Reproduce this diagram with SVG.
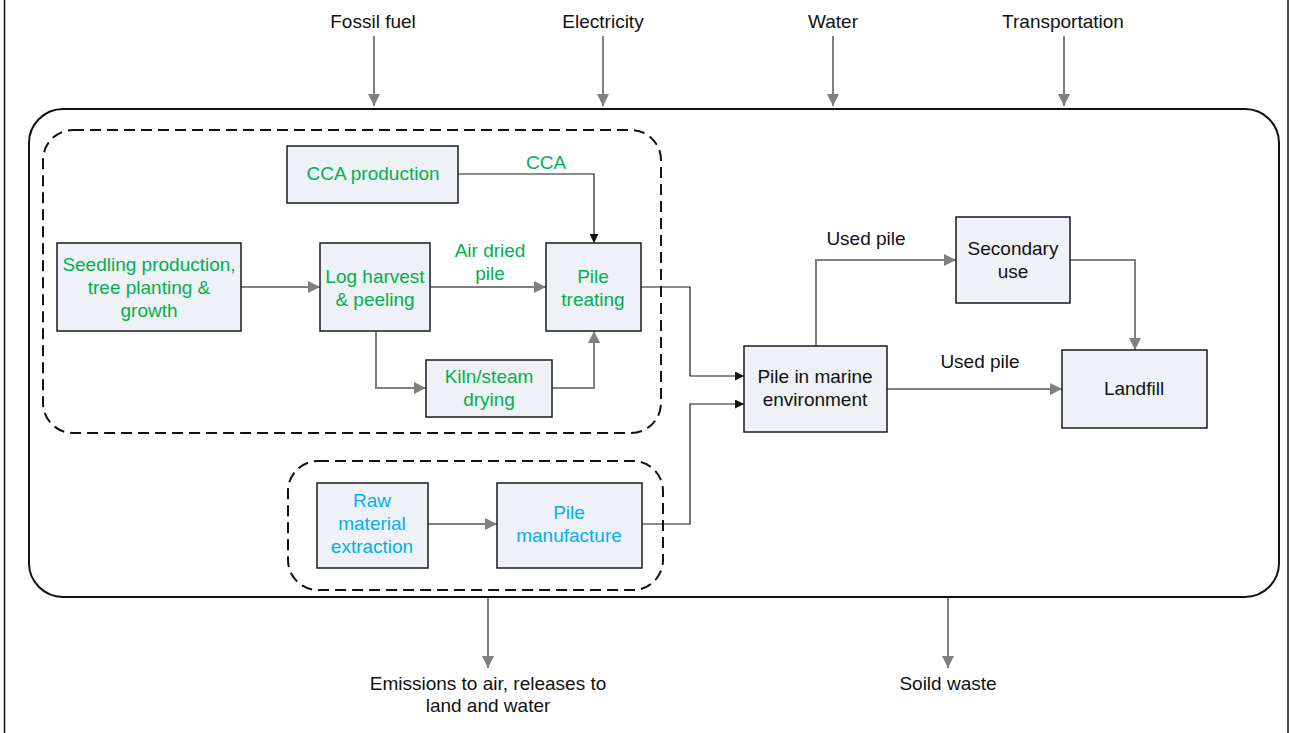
<svg xmlns="http://www.w3.org/2000/svg" width="1290" height="733" viewBox="0 0 1290 733">
<style>
.t{font-family:"Liberation Sans",Arial,sans-serif;font-size:19px;text-anchor:middle;fill:#111}
.g{fill:#00B050}
.b{fill:#00B0F0}
.box{fill:#EEF1F6;stroke:#1a1a1a;stroke-width:1.5}
.gr{fill:none;stroke:#808080;stroke-width:2}
.bk{fill:none;stroke:#1a1a1a;stroke-width:1.2}
.dash{fill:none;stroke:#111;stroke-width:2;stroke-dasharray:11 6}
</style>
<defs>
<marker id="ag" viewBox="0 0 10 10" refX="10" refY="5" markerWidth="12" markerHeight="12" markerUnits="userSpaceOnUse" orient="auto"><path d="M0,0L10,5L0,10z" fill="#808080"/></marker>
<marker id="ab" viewBox="0 0 10 10" refX="10" refY="5" markerWidth="9" markerHeight="9" markerUnits="userSpaceOnUse" orient="auto"><path d="M0,0L10,5L0,10z" fill="#111"/></marker>
</defs>
<rect width="1290" height="733" fill="#fff"/>
<line x1="4.5" y1="0" x2="4.5" y2="733" stroke="#111" stroke-width="1.5"/>
<line x1="1288" y1="0" x2="1288" y2="733" stroke="#111" stroke-width="1.5"/>
<rect id="system" x="29" y="109" width="1250" height="488" rx="34" fill="none" stroke="#111" stroke-width="2"/>
<rect id="group-wood" x="43" y="130" width="618" height="303" rx="30" class="dash"/>
<rect id="group-concrete" x="288" y="461" width="375" height="129" rx="30" class="dash"/>
<g id="connectors">
<path class="gr" d="M374,36V106" marker-end="url(#ag)"/>
<path class="gr" d="M603,36V106" marker-end="url(#ag)"/>
<path class="gr" d="M833,36V106" marker-end="url(#ag)"/>
<path class="gr" d="M1064,36V106" marker-end="url(#ag)"/>
<path class="gr" d="M488,598V668" marker-end="url(#ag)"/>
<path class="gr" d="M948,598V668" marker-end="url(#ag)"/>
<path class="bk" d="M458,174H594V243" stroke="#404040" marker-end="url(#ab)"/>
<path class="gr" d="M241,287H320" marker-end="url(#ag)"/>
<path class="gr" d="M430,287H546" marker-end="url(#ag)"/>
<path class="gr" d="M376,331V388H426" marker-end="url(#ag)"/>
<path class="gr" d="M552,388H594V331" marker-end="url(#ag)"/>
<path class="bk" d="M641,287H690V376H744" marker-end="url(#ab)"/>
<path class="gr" d="M428,524H497" marker-end="url(#ag)"/>
<path class="bk" d="M642,524H690V404H744" marker-end="url(#ab)"/>
<path class="gr" d="M816,346V260H956" marker-end="url(#ag)"/>
<path class="gr" d="M1070,260H1135V350" marker-end="url(#ag)"/>
<path class="gr" d="M887,389H1062" marker-end="url(#ag)"/>
<text class="t g" x="546" y="169">CCA</text>
<text class="t g" x="490" y="257">Air dried</text>
<text class="t g" x="490" y="280">pile</text>
<text class="t" x="866" y="245">Used pile</text>
<text class="t" x="980" y="368">Used pile</text>
</g>
<g id="inputs">
<text class="t" x="373" y="28">Fossil fuel</text>
<text class="t" x="603" y="28">Electricity</text>
<text class="t" x="833" y="28">Water</text>
<text class="t" x="1063" y="28">Transportation</text>
</g>
<g id="outputs">
<text class="t" x="488" y="690">Emissions to air, releases to</text>
<text class="t" x="488" y="712">land and water</text>
<text class="t" x="948" y="690">Soild waste</text>
</g>
<g id="cca"><rect class="box" x="287" y="146" width="171" height="57"/><text class="t g" x="373" y="180">CCA production</text></g>
<g id="seedling"><rect class="box" x="57" y="243" width="184" height="88"/><text class="t g" x="149" y="271">Seedling production,</text><text class="t g" x="149" y="294">tree planting &amp;</text><text class="t g" x="149" y="317">growth</text></g>
<g id="log"><rect class="box" x="320" y="243" width="110" height="88"/><text class="t g" x="375" y="283">Log harvest</text><text class="t g" x="375" y="306">&amp; peeling</text></g>
<g id="treating"><rect class="box" x="546" y="243" width="95" height="88"/><text class="t g" x="593" y="283">Pile</text><text class="t g" x="593" y="306">treating</text></g>
<g id="kiln"><rect class="box" x="426" y="360" width="126" height="57"/><text class="t g" x="489" y="383">Kiln/steam</text><text class="t g" x="489" y="406">drying</text></g>
<g id="raw"><rect class="box" x="317" y="483" width="111" height="85"/><text class="t b" x="372" y="507">Raw</text><text class="t b" x="372" y="530">material</text><text class="t b" x="372" y="553">extraction</text></g>
<g id="manufacture"><rect class="box" x="497" y="483" width="145" height="85"/><text class="t b" x="569" y="519">Pile</text><text class="t b" x="569" y="542">manufacture</text></g>
<g id="marine"><rect class="box" x="744" y="346" width="143" height="86"/><text class="t" x="815" y="383">Pile in marine</text><text class="t" x="815" y="406">environment</text></g>
<g id="secondary"><rect class="box" x="956" y="217" width="114" height="86"/><text class="t" x="1013" y="255">Secondary</text><text class="t" x="1013" y="278">use</text></g>
<g id="landfill"><rect class="box" x="1062" y="350" width="145" height="78"/><text class="t" x="1134" y="395">Landfill</text></g>
</svg>
